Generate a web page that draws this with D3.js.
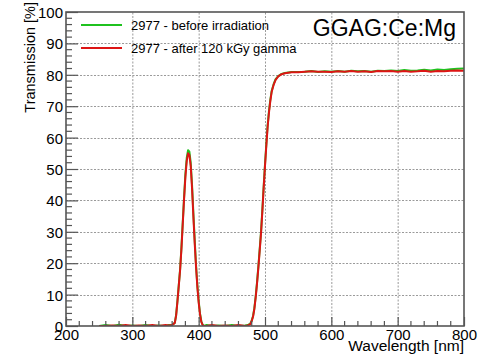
<!DOCTYPE html>
<html>
<head>
<meta charset="utf-8">
<script src="https://cdn.jsdelivr.net/npm/d3@7"></script>
<style>
  html, body { margin: 0; padding: 0; background: #fff; }
  svg { display: block; }
  text { font-family: "Liberation Sans", Arial, Helvetica, sans-serif; fill: #000; }
</style>
</head>
<body>
<svg id="chart" width="481" height="361"></svg>
<script>
// ---- data ----
const wavelength = [250,260,270,280,290,300,310,320,330,340,350,355,360,364,366,368,370,372,374,376,378,380,382,384,386,388,390,392,394,396,398,400,402,404,406,408,412,420,430,440,450,460,470,474,478,480,482,484,486,488,490,492,494,496,498,500,502,504,506,508,510,513,516,520,525,530,540,550,560,570,580,590,600,610,620,630,640,650,660,670,680,690,700,710,720,730,740,750,760,770,780,790,800];
const beforeIrr = [0,0.3,0,0.4,0,0.2,0,0.3,0,0.2,0,0.3,0.3,1,3.5,8,13,18,25,33,41,48.5,53.5,56,55.5,52,45,36,27.5,19.5,13,8,4,1.5,0.4,0,0.3,0,0.2,0,0.3,0,0.2,0.3,0.8,1.8,3.2,5.8,9.5,14,19,24.5,30,37,44.5,51.5,58,64,68.5,72,74.8,77,78.6,79.6,80.3,80.6,80.9,80.9,81.0,81.2,80.9,81.1,81.0,81.2,81.0,81.3,81.1,81.2,81.0,81.3,81.2,81.4,81.2,81.5,81.3,81.4,81.6,81.4,81.7,81.5,81.8,81.9,82.0];
const afterGamma = [0,0,0.2,0,0.3,0,0.2,0,0.3,0,0.3,0.2,0.3,1,3.3,7.8,12.8,17.8,24.5,32.5,40.5,47.5,52.5,55,54.5,51,44,35,26.5,19,12.5,7.5,3.8,1.3,0.3,0,0,0.3,0,0.2,0,0.3,0,0.2,0.6,1.6,3,5.5,9.2,13.6,18.6,24,29.5,36.5,44,51,57.5,63.5,68,71.6,74.5,76.8,78.4,79.5,80.2,80.5,80.8,80.8,81.0,81.1,81.0,81.0,80.9,81.1,81.0,81.2,81.0,81.1,80.9,81.2,81.1,81.2,81.0,81.2,81.0,81.1,81.3,81.0,81.2,81.1,81.3,81.4,81.3];
const xTicks = [200,300,400,500,600,700,800];
const yTicks = [0,10,20,30,40,50,60,70,80,90,100];
const seriesNames = ["2977 - before irradiation", "2977 - after 120 kGy gamma"];
const seriesColors = ["#1fc21f", "#dd1515"];
const titleText = "GGAG:Ce:Mg";

// ---- layout ----
const W = 481, H = 361;
const m = {left: 66, right: 17, top: 12, bottom: 35};
const x = d3.scaleLinear().domain([200, 800]).range([m.left, W - m.right]);
const y = d3.scaleLinear().domain([0, 100]).range([H - m.bottom, m.top]);
const svg = d3.select("#chart");

svg.append("defs").append("clipPath").attr("id", "clip")
  .append("rect").attr("x", m.left).attr("y", m.top)
  .attr("width", W - m.left - m.right).attr("height", H - m.top - m.bottom);

// grid
const grid = svg.append("g").attr("stroke", "#9a9a9a").attr("stroke-width", 1)
  .attr("stroke-dasharray", "2,1.5");
grid.selectAll("line.gx").data(xTicks.slice(1, -1)).join("line")
  .attr("x1", d => x(d) + 0.5).attr("x2", d => x(d) + 0.5)
  .attr("y1", y(0)).attr("y2", y(100));
grid.selectAll("line.gy").data(yTicks.slice(1, -1)).join("line")
  .attr("y1", d => Math.round(y(d)) + 0.5).attr("y2", d => Math.round(y(d)) + 0.5)
  .attr("x1", x(200)).attr("x2", x(800));

// curves
const line = d3.line().x((d, i) => x(wavelength[i])).y(d => y(d));
const curves = svg.append("g").attr("clip-path", "url(#clip)");
[beforeIrr, afterGamma].forEach((vals, k) => {
  curves.append("path").datum(vals).attr("d", line)
    .attr("fill", "none").attr("stroke", seriesColors[k])
    .attr("stroke-width", 2).attr("stroke-linejoin", "round");
});

// axes with ticks pointing inward
const axisColor = "#555";
const xAxis = d3.axisBottom(x).tickValues(xTicks).tickSize(-9).tickPadding(3).tickFormat(d3.format("d"));
const gx = svg.append("g").attr("transform", `translate(0,${y(0)})`).call(xAxis);
const yAxis = d3.axisLeft(y).tickValues(yTicks).tickSize(-12).tickPadding(3).tickFormat(d3.format("d"));
const gy = svg.append("g").attr("transform", `translate(${x(200)},0)`).call(yAxis);
[gx, gy].forEach(g => {
  g.select(".domain").remove();
  g.selectAll(".tick line").attr("stroke", axisColor).attr("stroke-width", 1.2);
  g.selectAll(".tick text").style("font-size", "15px").attr("fill", "#000")
    .style("font-family", '"Liberation Sans", Arial, sans-serif');
});
gy.selectAll(".tick text").attr("dy", "0.36em");

// minor ticks
const minorX = d3.range(200, 801, 20).filter(v => v % 100 !== 0);
svg.append("g").selectAll("line").data(minorX).join("line")
  .attr("x1", d => x(d)).attr("x2", d => x(d)).attr("y1", y(0)).attr("y2", y(0) - 5)
  .attr("stroke", axisColor).attr("stroke-width", 1.2);
const minorY = d3.range(0, 101, 2).filter(v => v % 10 !== 0);
svg.append("g").selectAll("line").data(minorY).join("line")
  .attr("y1", d => y(d)).attr("y2", d => y(d)).attr("x1", x(200)).attr("x2", x(200) + 6)
  .attr("stroke", axisColor).attr("stroke-width", 1.2);

// frame
svg.append("rect").attr("x", m.left).attr("y", m.top)
  .attr("width", W - m.left - m.right).attr("height", H - m.top - m.bottom)
  .attr("fill", "none").attr("stroke", axisColor).attr("stroke-width", 1.6);

// legend
const leg = svg.append("g");
seriesNames.forEach((name, k) => {
  const ly = 25 + k * 23;
  leg.append("line").attr("x1", 81).attr("x2", 122).attr("y1", ly).attr("y2", ly)
    .attr("stroke", seriesColors[k]).attr("stroke-width", 2);
  leg.append("text").attr("x", 131).attr("y", ly + 4.5).style("font-size", "13px").text(name);
});

// title
svg.append("text").attr("x", 456).attr("y", 36).attr("text-anchor", "end")
  .style("font-size", "23px").text(titleText);

// axis labels
svg.append("text").attr("x", 464).attr("y", 351).attr("text-anchor", "end")
  .style("font-size", "15.5px").text("Wavelength [nm]");
svg.append("text").attr("transform", "translate(35,2) rotate(-90)").attr("text-anchor", "end")
  .style("font-size", "14.5px").text("Transmission [%]");
</script>
</body>
</html>
